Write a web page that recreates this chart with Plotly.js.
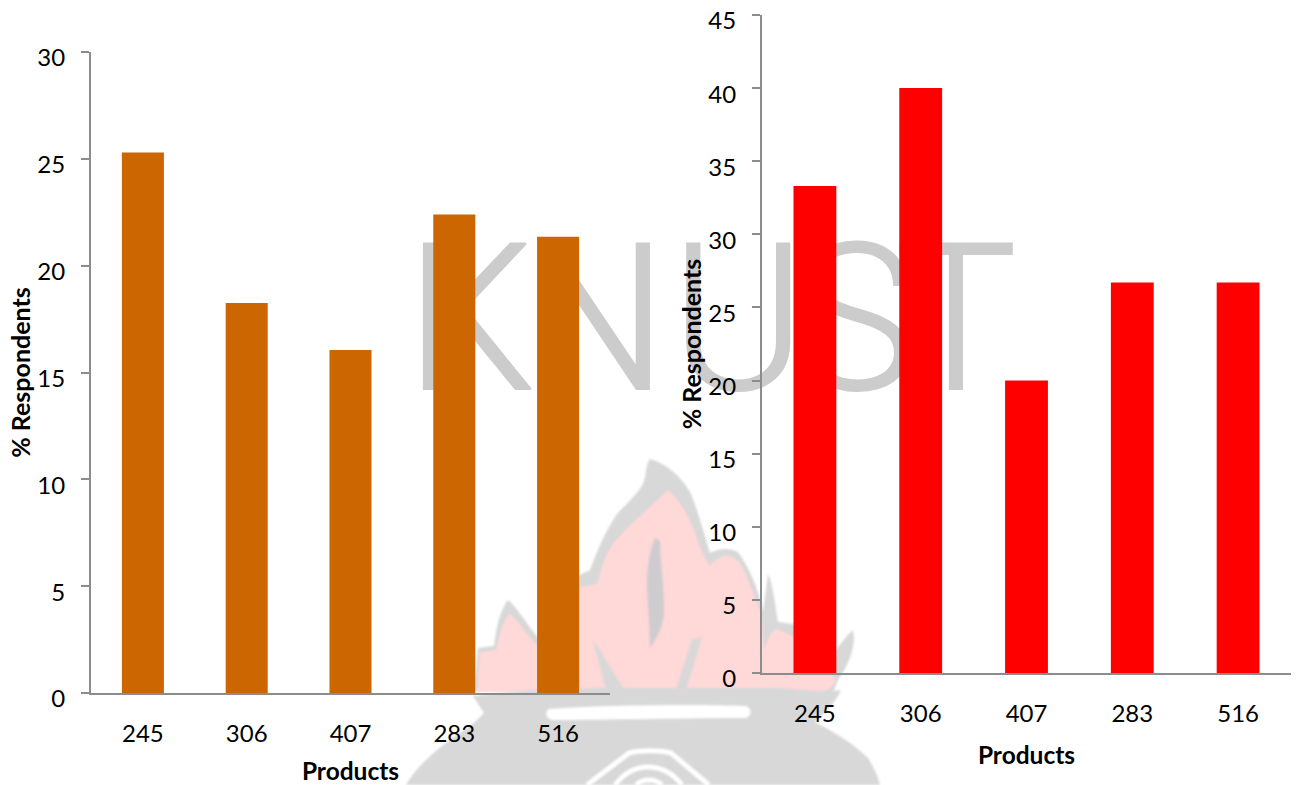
<!DOCTYPE html>
<html>
<head>
<meta charset="utf-8">
<script src="https://cdn.plot.ly/plotly-3.0.1.min.js"></script>
<style>html,body{margin:0;padding:0;background:#fff}#chart{width:1296px;height:785px}</style>
</head>
<body>
<div id="chart"></div>
<script>
// Survey results per product
const products = ['245', '306', '407', '283', '516'];
const leftValues = [25.3, 18.25, 16.05, 22.4, 21.35];
const rightValues = [33.3, 40, 20, 26.7, 26.7];
const leftTicks = [0, 5, 10, 15, 20, 25, 30];
const rightTicks = [0, 5, 10, 15, 20, 25, 30, 35, 40, 45];

// Background crest letters
const crestLetters = ['K', 'N', 'U', 'S', 'T'];
const crestLetterX = [470, 595, 738, 855, 956];
const crestLetterY = [338, 338, 338, 338, 338];

const W = 1296, H = 785;
const FONT = 'Lato, "Open Sans", sans-serif';
const AXIS = '#8c8c8c';

// Crest outlines, in page pixels through the full-page background axes
const crestGray = '#d8d8d8', flamePink = '#ffd8d8', slitGray = '#cfcccf';
const flameOuter = 'M474,690 L478,648 L494,646 C496,628 500,610 508,600 C516,606 528,626 540,640 L579,575 L590,570 C594,560 602,536 617,514 C630,500 642,490 645,478 C646,470 647,462 650,459 C662,462 680,474 690,492 C698,510 704,534 710,553 C720,548 730,548 738,552 C748,566 758,586 763,612 L768,574 C772,580 775,604 778,622 L800,625 L836,650 C842,642 848,634 853,630 C856,642 852,660 838,680 L830,700 Z';
const flameInner = 'M477,692 L480,652 L496,650 C500,632 504,618 510,614 C520,622 530,640 540,648 L579,587 L597,584 C602,566 606,552 616,540 C634,520 654,504 668,490 C680,500 692,520 698,542 C702,552 706,560 710,566 C722,552 732,552 742,566 C750,584 756,600 762,616 L764,650 C770,630 775,628 780,630 L800,640 L828,660 L836,682 L824,694 L770,690 L620,690 L480,692 Z';
const crestBody = 'M473,696 C520,690 560,688 620,688 L780,688 C805,690 825,692 841,690 C838,698 830,708 815,722 C830,730 852,742 868,758 C874,768 878,776 880,785 L406,785 C414,770 432,752 460,733 C470,726 478,720 484,713 Z';
const whiteBar = 'M549,709 C600,705 700,704 746,706 C752,708 752,716 746,718 C700,718 600,720 552,720 C545,718 545,712 549,709 Z';
const slit = 'M655,538 C650,550 647,565 647,585 C648,610 650,630 650,648 C658,636 664,625 664,610 C664,585 660,560 660,541 Z';
const lickLeft = 'M593,640 L600,650 L624,690 L606,690 Z';
const lickRight = 'M692,640 L702,637 L686,690 L676,690 Z';
const arches = [
  'M587,785 L629,753 C640,750 660,750 671,753 L709,785',
  'M615,785 C625,772 636,767 648,767 C660,767 672,772 682,785',
  'M636,785 C640,781 645,780 649,780 C654,780 658,781 662,785'
];

function area(path, fill) {
  return {type: 'path', xref: 'x', yref: 'y', layer: 'below', path: path,
          fillcolor: fill, line: {width: 0}};
}
function stroke(path) {
  return {type: 'path', xref: 'x', yref: 'y', layer: 'below', path: path,
          fillcolor: 'rgba(0,0,0,0)', line: {color: '#ffffff', width: 5}};
}
const crestShapes = [
  area(flameOuter, crestGray),
  area(flameInner, flamePink),
  area(slit, slitGray),
  area(lickLeft, crestGray),
  area(lickRight, crestGray),
  area(crestBody, crestGray),
  area(whiteBar, '#ffffff')
].concat(arches.map(stroke));

const crestText = {
  type: 'scatter', mode: 'text', x: crestLetterX, y: crestLetterY, text: crestLetters,
  textposition: 'middle center', hoverinfo: 'skip', showlegend: false,
  textfont: {family: 'Roboto, Lato, sans-serif', size: 204, color: '#cccccc', weight: 300},
  xaxis: 'x', yaxis: 'y'
};
const leftBars = {type: 'bar', x: products, y: leftValues, marker: {color: '#cc6600'},
  xaxis: 'x2', yaxis: 'y2', showlegend: false};
const rightBars = {type: 'bar', x: products, y: rightValues, marker: {color: '#ff0000'},
  xaxis: 'x3', yaxis: 'y3', showlegend: false};

function xAxis(x0, x1, anchor, standoff) {
  return {
    domain: [x0 / W, x1 / W], anchor: anchor, type: 'category',
    showline: true, linecolor: AXIS, linewidth: 2, ticks: '', showgrid: false, zeroline: false,
    tickfont: {family: FONT, size: 24, color: '#000'}, ticklabelstandoff: 18,
    title: {text: '<b>Products</b>', font: {family: FONT, size: 24.5, color: '#000'}, standoff: standoff},
    automargin: false
  };
}
function yAxis(top, bottom, anchor, max, vals, standoff) {
  return {
    domain: [1 - bottom / H, 1 - top / H], anchor: anchor, range: [0, max],
    showline: true, linecolor: AXIS, linewidth: 2, showgrid: false, zeroline: false,
    ticks: 'outside', ticklen: 8, tickwidth: 2, tickcolor: AXIS, tickmode: 'array', tickvals: vals,
    tickfont: {family: FONT, size: 24, color: '#000'}, ticklabelstandoff: 11, ticklabelshift: 6,
    title: {text: '<b>% Respondents</b>', font: {family: FONT, size: 25, color: '#000'}, standoff: standoff},
    automargin: false
  };
}

const layout = {
  width: W, height: H, margin: {l: 0, r: 0, t: 0, b: 0, pad: 0},
  paper_bgcolor: '#ffffff', plot_bgcolor: 'rgba(0,0,0,0)', bargap: 0.595,
  showlegend: false,
  shapes: crestShapes,
  xaxis: {domain: [0, 1], range: [0, W], visible: false, anchor: 'y', fixedrange: true},
  yaxis: {domain: [0, 1], range: [H, 0], visible: false, anchor: 'x', fixedrange: true},
  xaxis2: xAxis(91, 610, 'y2', 21),
  yaxis2: yAxis(52, 693, 'x2', 30, leftTicks, 0),
  xaxis3: xAxis(762, 1291, 'y3', 21),
  yaxis3: yAxis(15, 673, 'x3', 45, rightTicks, 0)
};

Plotly.newPlot('chart', [crestText, leftBars, rightBars], layout, {staticPlot: true, displayModeBar: false}).then(function (gd) {
  // The crest artwork has soft edges and slightly heavier letters
  gd.querySelectorAll('.shapelayer path').forEach(function (p) { p.style.filter = 'blur(1.2px)'; });
  gd.querySelectorAll('.textpoint text').forEach(function (t) {
    t.style.stroke = '#cccccc';
    t.style.strokeWidth = '2px';
  });
});
</script>
</body>
</html>
